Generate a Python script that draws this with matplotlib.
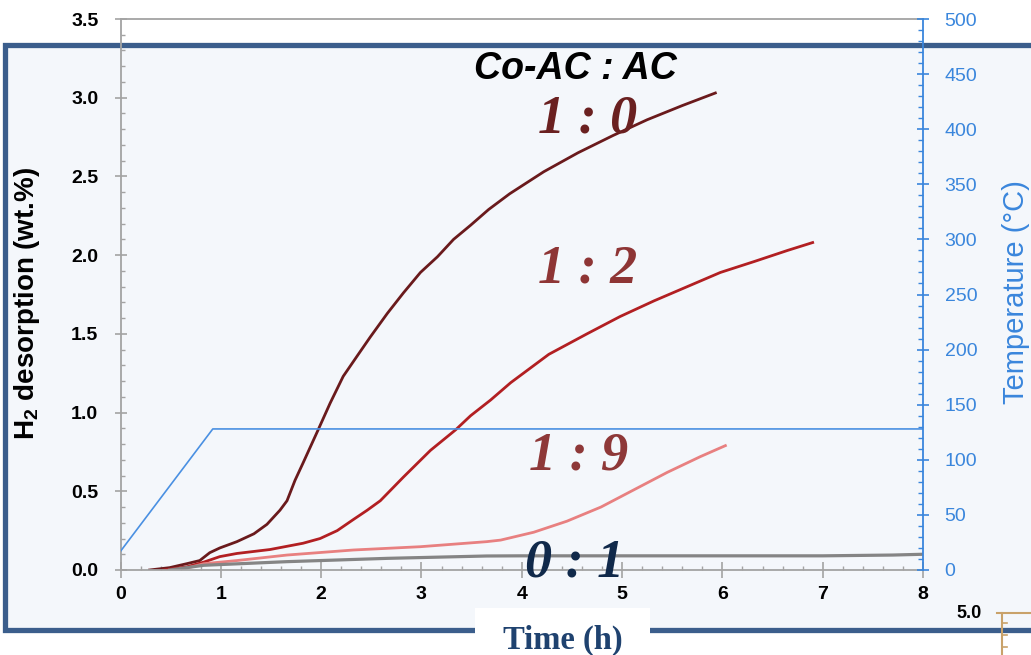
import numpy as np
import matplotlib
matplotlib.use("Agg")
import matplotlib.pyplot as plt
from matplotlib.patches import Rectangle
from matplotlib.lines import Line2D
from matplotlib.ticker import MultipleLocator

plt.rcParams['font.family'] = ['Liberation Sans', 'DejaVu Sans']
plt.rcParams['mathtext.fontset'] = 'custom'
plt.rcParams['mathtext.rm'] = 'Liberation Sans:bold'
plt.rcParams['mathtext.bf'] = 'Liberation Sans:bold'

# H2 desorption curves (time in h, wt.%)
t_10 = [0.29, 0.49, 0.66, 0.79, 0.89, 0.99, 1.16, 1.33, 1.46, 1.59, 1.66, 1.74, 1.82, 1.97,
        2.09, 2.22, 2.36, 2.49, 2.66, 2.82, 2.99, 3.16, 3.32, 3.49, 3.67, 3.88, 4.22, 4.56,
        4.91, 5.25, 5.60, 5.93]
h_10 = [0.0, 0.015, 0.04, 0.06, 0.11, 0.14, 0.18, 0.23, 0.29, 0.38, 0.44, 0.57, 0.68, 0.89,
        1.06, 1.23, 1.36, 1.48, 1.63, 1.76, 1.89, 1.99, 2.10, 2.19, 2.29, 2.39, 2.53, 2.65,
        2.76, 2.86, 2.95, 3.03]

t_12 = [0.43, 0.66, 0.83, 0.99, 1.16, 1.49, 1.82, 1.99, 2.16, 2.32, 2.46, 2.59, 2.82, 3.09,
        3.34, 3.49, 3.69, 3.89, 4.27, 4.65, 4.98, 5.32, 5.65, 5.98, 6.32, 6.65, 6.90]
h_12 = [0.0, 0.02, 0.05, 0.085, 0.105, 0.13, 0.17, 0.20, 0.25, 0.32, 0.38, 0.44, 0.59, 0.76,
        0.89, 0.98, 1.08, 1.19, 1.37, 1.50, 1.61, 1.71, 1.80, 1.89, 1.96, 2.03, 2.08]

t_19 = [0.59, 0.83, 1.16, 1.66, 2.32, 2.99, 3.65, 3.79, 4.12, 4.45, 4.79, 5.12, 5.45, 5.78, 6.03]
h_19 = [0.0, 0.04, 0.06, 0.095, 0.127, 0.148, 0.18, 0.19, 0.24, 0.31, 0.40, 0.51, 0.62, 0.72, 0.79]

t_01 = [0.49, 0.83, 1.66, 2.66, 3.65, 3.99, 5.0, 6.0, 7.0, 7.7, 8.0]
h_01 = [0.0, 0.03, 0.053, 0.074, 0.089, 0.09, 0.09, 0.09, 0.09, 0.095, 0.10]

# temperature program
temp_t = [0, 0.92, 8]
temp_c = [17, 128, 128]

ratio_labels = ["1 : 0", "1 : 2", "1 : 9", "0 : 1"]
label_pos = [(4.66, 2.86), (4.66, 1.91), (4.57, 0.72), (4.53, 0.04)]
label_colors = ["#6a2020", "#8e3535", "#8e3838", "#10294a"]

W, H = 1031, 655
fig = plt.figure(figsize=(W / 100, H / 100), dpi=100)
fig.patch.set_facecolor("white")

# slide frame behind the chart
frame = Rectangle((4.5 / W, (H - 630) / H), 1.2, (630 - 44.5) / H, transform=fig.transFigure,
                  facecolor="#f4f7fb", edgecolor="#3b5e8c", linewidth=3.8, zorder=-10)
fig.patches.append(frame)
# white box with the time label on the frame edge
fig.patches.append(Rectangle((475 / W, 0), 175 / W, (H - 608) / H, transform=fig.transFigure,
                             facecolor="white", edgecolor="none", zorder=-9))

ax = fig.add_axes([120.5 / W, (H - 570) / H, (923 - 120.5) / W, (570 - 19) / H])
ax.set_facecolor("none")
ax.plot(t_10, h_10, color="#6a1a1c", lw=2.0)
ax.plot(t_12, h_12, color="#b21f22", lw=2.0)
ax.plot(t_19, h_19, color="#e88080", lw=2.0)
ax.plot(t_01, h_01, color="#858585", lw=2.3)

ax.set_xlim(0, 8)
ax.set_ylim(0, 3.5)
ax.xaxis.set_major_locator(MultipleLocator(1))
ax.xaxis.set_minor_locator(MultipleLocator(0.2))
ax.yaxis.set_major_locator(MultipleLocator(0.5))
ax.yaxis.set_minor_locator(MultipleLocator(0.1))
ax.yaxis.set_major_formatter(matplotlib.ticker.FormatStrFormatter("%.1f"))
for s in ["left", "bottom", "top"]:
    ax.spines[s].set_color("#a3a3a3")
    ax.spines[s].set_linewidth(1.3)
ax.spines["right"].set_visible(False)
ax.tick_params(axis="x", which="major", direction="inout", length=11.5, width=1.2,
               color="#a3a3a3", pad=6, labelsize=14)
ax.tick_params(axis="y", which="major", direction="inout", length=8, width=1.2,
               color="#a3a3a3", pad=12, labelsize=14)
ax.tick_params(which="minor", direction="in", length=3, width=1.0, color="#a3a3a3")
for lab in ax.get_xticklabels() + ax.get_yticklabels():
    lab.set_fontweight("bold")

ax2 = ax.twinx()
ax2.set_ylim(0, 500)
ax2.plot(temp_t, temp_c, color="#4a90e2", lw=1.2)
ax2.yaxis.set_major_locator(MultipleLocator(50))
ax2.yaxis.set_minor_locator(MultipleLocator(10))
for s in ["left", "bottom", "top"]:
    ax2.spines[s].set_visible(False)
ax2.spines["right"].set_color("#3a86dc")
ax2.spines["right"].set_linewidth(1.3)
ax2.tick_params(axis="y", which="major", direction="inout", length=9, width=1.2,
                color="#3a86dc", labelcolor="#3a86dc", pad=11, labelsize=14)
ax2.tick_params(axis="y", which="minor", direction="in", length=3.5, width=1.0, color="#3a86dc")

ax.text(4.54, 3.18, "Co-AC : AC", ha="center", va="center", fontsize=27,
        fontweight="bold", style="italic", color="black")
for lab, (x, y), c in zip(ratio_labels, label_pos, label_colors):
    ax.text(x, y, lab, ha="center", va="center", fontsize=39, fontweight="bold",
            style="italic", family="Liberation Serif", color=c, zorder=5)

fig.text(27 / W, 1 - 303 / H, "H$_2$ desorption (wt.%)", rotation=90, ha="center",
         va="center", fontsize=20, fontweight="bold", color="black")
fig.text(1016 / W, 1 - 292 / H, "Temperature (°C)", rotation=90, ha="center",
         va="center", fontsize=21, color="#3a86dc")

fig.text(563 / W, 1 - 640 / H, "Time (h)", ha="center", va="center", fontsize=23.5,
         fontweight="bold", family="Liberation Serif", color="#1f426f", zorder=3)

# neighbouring chart peeking in at bottom right
fig.text(969 / W, 1 - 613 / H, "5.0", ha="center", va="center", fontsize=13,
         fontweight="bold", color="black")
tan = "#c9a26a"
fig.add_artist(Line2D([1002 / W, 1002 / W], [1 - 613 / H, 0], color=tan, lw=1.5,
                      transform=fig.transFigure))
fig.add_artist(Line2D([997 / W, 1031 / W], [1 - 613 / H, 1 - 613 / H], color=tan, lw=1.5,
                      transform=fig.transFigure))
for yy in [623, 635, 647]:
    fig.add_artist(Line2D([1002 / W, 1007 / W], [1 - yy / H, 1 - yy / H], color=tan, lw=1.2,
                          transform=fig.transFigure))

fig.savefig("out.png", dpi=100)
